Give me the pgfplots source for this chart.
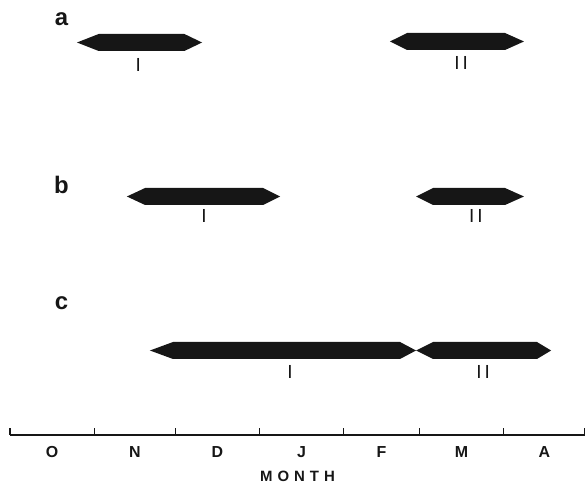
\documentclass[border=0pt]{standalone}
\usepackage{pgfplots}
\pgfplotsset{compat=1.18}
\usepackage{fontspec}
\setmainfont{Liberation Sans}
\definecolor{ink}{HTML}{161616}
\begin{document}
\begin{tikzpicture}
\begin{axis}[
  scale only axis, width=575bp, height=435bp,
  xmin=0, xmax=212, ymin=0, ymax=435,
  axis x line=bottom, axis y line=none,
  x axis line style={-, line width=1.8bp, draw=ink},
  xtick={0,31,61,92,123,151,182,212},
  xticklabels={},
  tick align=inside, major tick length=7bp,
  tick style={line width=1.1bp, draw=ink},
  extra x ticks={15.5,46,76.5,107.5,137,166.5,197},
  extra x tick labels={O,N,D,J,F,M,A},
  extra x tick style={major tick length=0pt,
    tick label style={font=\bfseries\fontsize{16}{16}\selectfont, text=ink, anchor=center, yshift=-17bp}},
  xlabel={M\hspace{5bp}O\hspace{5bp}N\hspace{5bp}T\hspace{5bp}H},
  xlabel style={font=\bfseries\fontsize{15}{15}\selectfont, text=ink, at={(axis description cs:0.5,0)}, anchor=center, yshift=-41bp},
  clip=false,
]
% a
\addplot[fill=ink, draw=none] coordinates {(24.7,392.5) (32.7,401) (64.3,401) (70.8,392.5) (64.3,384) (32.7,384)} -- cycle;
\addplot[fill=ink, draw=none] coordinates {(140.1,393.5) (146.4,402) (182.5,402) (189.5,393.5) (182.5,385) (146.4,385)} -- cycle;
% b
\addplot[fill=ink, draw=none] coordinates {(43.1,238.5) (49.8,247) (93.3,247) (99.6,238.5) (93.3,230) (49.8,230)} -- cycle;
\addplot[fill=ink, draw=none] coordinates {(149.7,238.5) (156,247) (182.5,247) (189.5,238.5) (182.5,230) (156,230)} -- cycle;
% c
\addplot[fill=ink, draw=none] coordinates {(51.6,84.5) (60.1,93) (143.8,93) (149.7,84.5) (143.8,76) (60.1,76)} -- cycle;
\addplot[fill=ink, draw=none] coordinates {(149.7,84.5) (156,93) (194.3,93) (199.5,84.5) (194.3,76) (156,76)} -- cycle;
% labels
\node[font=\fontsize{19}{19}\selectfont, text=ink] at (axis cs:47.3,370) {I};
\node[font=\fontsize{19}{19}\selectfont, text=ink] at (axis cs:166.3,372) {I\hspace{3bp}I};
\node[font=\fontsize{19}{19}\selectfont, text=ink] at (axis cs:71.5,219) {I};
\node[font=\fontsize{19}{19}\selectfont, text=ink] at (axis cs:171.8,219) {I\hspace{3bp}I};
\node[font=\fontsize{19}{19}\selectfont, text=ink] at (axis cs:103.2,63) {I};
\node[font=\fontsize{19}{19}\selectfont, text=ink] at (axis cs:174.4,63) {I\hspace{3bp}I};
\node[font=\bfseries\fontsize{24}{24}\selectfont, text=ink] at (axis cs:19,416) {a};
\node[font=\bfseries\fontsize{24}{24}\selectfont, text=ink] at (axis cs:19,250) {b};
\node[font=\bfseries\fontsize{24}{24}\selectfont, text=ink] at (axis cs:19,132) {c};
\end{axis}
\pgfresetboundingbox
\path[use as bounding box] (current axis.south west) ++(-10bp,-51bp) rectangle (current axis.north east);
\end{tikzpicture}
\end{document}
